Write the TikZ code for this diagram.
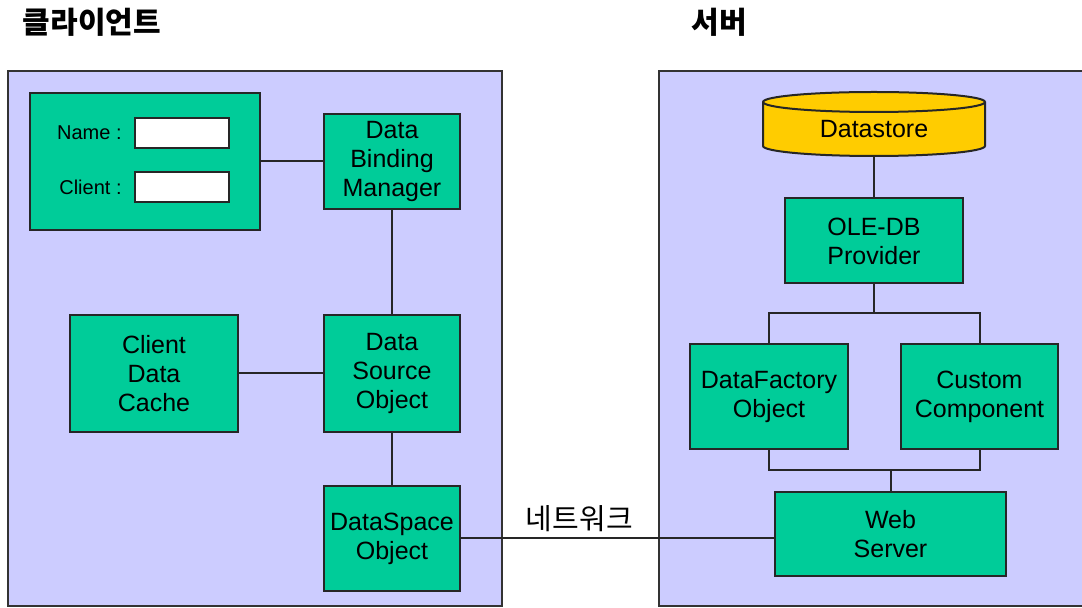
\documentclass[tikz,border=0pt]{standalone}
\usepackage{fontspec}
\setmainfont{Liberation Sans}
\newfontfamily\kofont{Noto Sans CJK KR}
\usetikzlibrary{positioning}
\definecolor{panelblue}{RGB}{204,204,255}
\definecolor{boxgreen}{RGB}{0,204,153}
\definecolor{storeyellow}{RGB}{255,204,0}

\begin{document}
\begin{tikzpicture}[
                x=0.5pt, y=-0.5pt,
                node distance=1cm,
                panel/.style={rectangle, draw=black!80, line width=1pt, fill=panelblue, inner sep=0pt},
                block/.style={rectangle, draw=black!85, line width=1pt, fill=boxgreen, align=center, inner sep=0pt, font=\fontsize{12.5}{14.5}\selectfont},
                field/.style={rectangle, draw=black!85, line width=1pt, fill=white, minimum width=47pt, minimum height=15pt, inner sep=0pt},
                small/.style={font=\fontsize{10}{12}\selectfont, inner sep=0pt},
                title/.style={font=\kofont\bfseries\fontsize{15}{17}\selectfont, inner sep=0pt},
                link/.style={line width=1pt, draw=black!85}
            ]
                \useasboundingbox (0,0) rectangle (1082,608);

                % the two sides
                \node[panel, minimum width=247pt, minimum height=267.5pt] (clientpane) at (255,338.5) {};
                \node[panel, minimum width=220.5pt, minimum height=267.5pt] (serverpane) at (879.5,338.5) {};
                \node[title] (clienttitle) at (92,22) {클라이언트};
                \node[title] (servertitle) at (719,22) {서버};

                % client side
                \node[block, minimum width=115pt, minimum height=68.5pt] (form) at (145,161.5) {};
                \node[field] (namefield) at (182,133) {};
                \node[field, below=11pt of namefield] (clientfield) {};
                \node[small, left=6pt of namefield] (namelbl) {Name :};
                \node[small, left=6pt of clientfield] (clientlbl) {Client :};
                \node[block, minimum width=68pt, minimum height=47.5pt] (dbm) at (392,161.5) {Data \\ Binding \\ Manager};
                \node[block, minimum width=68pt, minimum height=58.5pt, below=52pt of dbm] (dso) {Data \\ Source \\ Object};
                \node[block, minimum width=84pt, minimum height=58.5pt, left=42pt of dso] (cache) {Client \\ Data \\ Cache};
                \node[block, minimum width=68pt, minimum height=52.5pt, below=26pt of dso] (space) {DataSpace \\ Object};

                % server side
                \draw[link, fill=storeyellow] (763,102) -- (763,146)
                    arc[start angle=180, end angle=360, x radius=55.5pt, y radius=5pt] -- (985,102)
                    arc[start angle=0, end angle=180, x radius=55.5pt, y radius=5pt] -- cycle;
                \draw[link] (763,102) arc[start angle=180, end angle=360, x radius=55.5pt, y radius=5pt];
                \node[minimum width=111pt, minimum height=27pt, inner sep=0pt, font=\fontsize{12.5}{14.5}\selectfont] (store) at (874,129) {Datastore};
                \node[block, minimum width=89pt, minimum height=42.5pt, below=20.5pt of store] (ole) {OLE-DB \\ Provider};
                \node[block, minimum width=79pt, minimum height=52.5pt] (factory) at (769,396.5) {DataFactory \\ Object};
                \node[block, minimum width=78.5pt, minimum height=52.5pt] (custom) at (979.5,396.5) {Custom \\ Component};
                \node[block, minimum width=115.5pt, minimum height=42pt] (web) at (890.5,534.5) {Web \\ Server};
                \coordinate (split) at (874,313);
                \coordinate (join) at (890.5,470);

                \draw[link] (form) -- (dbm);
                \draw[link] (dbm) -- (dso);
                \draw[link] (cache) -- (dso);
                \draw[link] (dso) -- (space);
                \draw[link] (store) -- (ole);
                \draw[link] (ole) -- (split);
                \draw[link] (factory.north) |- (split) -| (custom.north);
                \draw[link] (factory.south) |- (join) -| (custom.south);
                \draw[link] (join) -- (web);
                \draw[link] (space.east) -- node[pos=0.378, above=3pt, inner sep=0pt, font=\kofont\fontsize{14.5}{17}\selectfont] (netlbl) {네트워크} (space.east -| web.west);
            \end{tikzpicture}
\end{document}
